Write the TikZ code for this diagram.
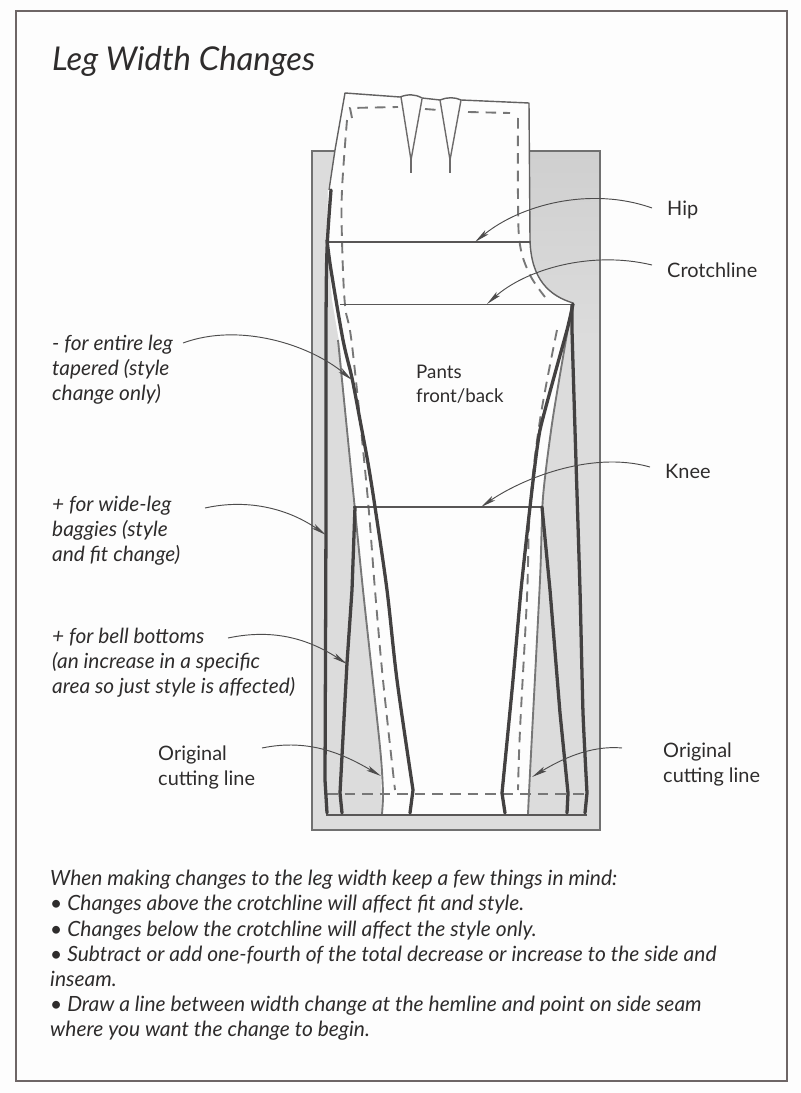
\documentclass[tikz,border=0pt]{standalone}
\usepackage{fontspec}
\setmainfont{Lato}
\usetikzlibrary{arrows.meta}
\definecolor{ink}{HTML}{2E2C2C}
\definecolor{framec}{HTML}{6E6666}
\definecolor{paperc}{HTML}{FDFDFD}
\definecolor{graytone}{HTML}{DCDCDC}
\definecolor{graydark}{HTML}{CFCFCF}
\definecolor{seam}{HTML}{777777}
\definecolor{rectc}{HTML}{707070}
\tikzset{
  heavy/.style={draw=ink!90,line width=2.8pt,line cap=round,line join=round},
  origline/.style={draw=seam,line width=1.6pt,line join=round},
  thinline/.style={draw=ink!80,line width=0.9pt},
  seamline/.style={draw=seam,line width=1.6pt,dash pattern=on 9pt off 6pt},
  leader/.style={draw=ink!85,line width=0.8pt,-{Stealth[length=13pt,width=4.5pt,inset=3pt]}},
  lab/.style={anchor=base west,inner sep=0pt,text=ink,font=\fontsize{17pt}{18pt}\selectfont},
  itlab/.style={lab,font=\fontsize{17.8pt}{18pt}\selectfont\itshape},
  bodyline/.style={lab,font=\fontsize{17.9pt}{18pt}\selectfont\itshape},
}
\begin{document}
\begin{tikzpicture}[x=0.03cm,y=-0.03cm]
\useasboundingbox (0,0) rectangle (800,1093);
\fill[paperc] (0,0) rectangle (800,1093);
\draw[draw=framec,line width=1.5pt] (16,11) rectangle (787,1081);
% shaded block
\fill[graytone] (312,151) rectangle (600,830);
\shade[top color=graydark,bottom color=graytone] (530,151) rectangle (600,340);
\draw[draw=rectc,line width=1.6pt] (312,151) rectangle (600,830);
% pattern piece (white)
\fill[paperc] (345,93) -- (529,103) -- (530,240) .. controls (531,280) and (550,296) .. (573,303)
  -- (553,417) -- (543,497) -- (541,530) -- (540,580) -- (530,773) -- (528,814) -- (382,814)
  -- (380,747) -- (363,585) -- (353,490) -- (340,347) -- (332,300) -- (327,240) -- (328,190) -- (335,150) -- cycle;
% seam allowance
\draw[seamline] (352,118) -- (350,108) -- (398,107);
\draw[seamline] (425,109) -- (438,110);
\draw[seamline] (468,112) -- (510,113);
\draw[seamline] plot[smooth,tension=.6] coordinates {(347,120) (342,190) (342,240) (345,305) (352,345) (367,490) (375,590) (383,680) (395,790)};
\draw[seamline] plot[smooth,tension=.6] coordinates {(518,118) (518,200) (520,245) (530,275) (545,297)};
\draw[seamline] plot[smooth,tension=.6] coordinates {(557,330) (540,420) (530,507) (527,597) (520,730) (518,790)};
\draw[seamline] (327,794) -- (585,794);
% waist and darts
\draw[draw=ink!75,line width=1.2pt,line join=round] (329,190) -- (335,150) -- (345,93) -- (400,97)
  .. controls (408,94) and (415,94) .. (422,98) -- (440,100)
  .. controls (447,97) and (455,97) .. (461,100) -- (529,103) -- (530,240)
  .. controls (531,280) and (550,296) .. (573,303);
\draw[draw=ink!70,line width=1.2pt] (401,97) -- (411,160) -- (422,99);
\draw[draw=ink!70,line width=1.2pt] (440,100) -- (450,160) -- (461,100);
\draw[draw=ink!70,line width=2.2pt] (411,158) -- (411,173);
\draw[draw=ink!70,line width=2.2pt] (450,158) -- (450,173);
% horizontal lines
\coordinate (hipend) at (475,242);
\coordinate (crotchend) at (487,304);
\coordinate (kneeend) at (481,507);
\draw[thinline] (328,242) -- (530,242);
\draw[thinline] (340,304.5) -- (572,304.5);
\draw[thinline] (353,507) -- (543,507);
\draw[thinline] (326,815) -- (587,815);
% original cutting lines
\draw[origline] plot[smooth,tension=.4] coordinates {(338,340) (353,490) (363,590) (380,747) (383,793) (382,814)};
\draw[origline] plot[smooth,tension=.4] coordinates {(572,305) (553,417) (543,497) (540,580) (530,773) (528,814)};
% heavy cutting lines, left
\draw[heavy] plot[smooth,tension=.5] coordinates {(331,190) (327,250) (326,330) (326,510) (325,780)} -- (327,813);
\draw[heavy] plot[smooth,tension=.5] coordinates {(327,240) (331,270) (343,340) (352,378) (360,420) (368,463) (375,507) (387,590) (397,680) (413,790)} -- (410,813);
\draw[heavy] (355,507) -- (352,590) -- (347,663) -- (340,793) -- (342,813);
% heavy cutting lines, right
\draw[heavy] plot[smooth,tension=.3] coordinates {(573,304) (567,330) (540,430) (530,507) (521,590) (513,680) (502,793)} -- (505,813);
\draw[heavy] plot[smooth,tension=.3] coordinates {(572,305) (572,330) (575,430) (580,590) (583,713) (587,793)} -- (585,813);
\draw[heavy] (542,507) -- (550,590) -- (560,713) -- (568,793) -- (567,813);
% labels
\node[lab,font=\fontsize{28pt}{30pt}\selectfont\itshape] (title) at (52,70) {Leg Width Changes};
\node[lab] (hip) at (667,215) {Hip};
\node[lab] (crotch) at (667,277) {Crotchline};
\node[lab] (knee) at (665,478) {Knee};
\node[lab,font=\fontsize{16pt}{18pt}\selectfont] (pants1) at (416,378) {Pants};
\node[lab,font=\fontsize{16pt}{18pt}\selectfont] (pants2) at (416,402) {front/back};
\node[lab] (origL1) at (158,760) {Original};
\node[lab] (origL2) at (158,785) {cutting line};
\node[lab] (origR1) at (663,757) {Original};
\node[lab] (origR2) at (663,782) {cutting line};
\node[itlab] (entire1) at (52,350) {- for entire leg};
\node[itlab] (entire2) at (52,375) {tapered (style};
\node[itlab] (entire3) at (52,400) {change only)};
\node[itlab] (wide1) at (52,511) {+ for wide-leg};
\node[itlab] (wide2) at (52,536) {baggies (style};
\node[itlab] (wide3) at (52,561) {and fit change)};
\node[itlab] (bell1) at (52,643) {+ for bell bottoms};
\node[itlab] (bell2) at (52,668) {(an increase in a specific};
\node[itlab] (bell3) at (52,693) {area so just style is affected)};
\node[bodyline] (b1) at (50,885) {When making changes to the leg width keep a few things in mind:};
\node[bodyline] (b2) at (50,910) {• Changes above the crotchline will affect fit and style.};
\node[bodyline] (b3) at (50,936) {• Changes below the crotchline will affect the style only.};
\node[bodyline] (b4) at (50,961) {• Subtract or add one-fourth of the total decrease or increase to the side and};
\node[bodyline] (b5) at (50,986) {inseam.};
\node[bodyline] (b6) at (50,1011) {• Draw a line between width change at the hemline and point on side seam};
\node[bodyline] (b7) at (50,1036) {where you want the change to begin.};
% leaders
\coordinate (entireend) at (352,380);
\coordinate (wideend) at (326,535);
\coordinate (bellend) at (347,664);
\coordinate (origLend) at (381,776);
\coordinate (origRend) at (532,777);
\draw[leader] (652,208) .. controls (590,186) and (520,205) .. (hipend);
\draw[leader] (652,265) .. controls (590,250) and (525,270) .. (crotchend);
\draw[leader] (650,467) .. controls (590,450) and (520,480) .. (kneeend);
\draw[leader] (183,343) .. controls (240,322) and (310,345) .. (entireend);
\draw[leader] (205,508) .. controls (250,498) and (290,510) .. (wideend);
\draw[leader] (228,638) .. controls (275,628) and (310,640) .. (bellend);
\draw[leader] (262,748) .. controls (310,738) and (345,755) .. (origLend);
\draw[leader] (622,748) .. controls (590,745) and (560,760) .. (origRend);
\end{tikzpicture}
\end{document}
